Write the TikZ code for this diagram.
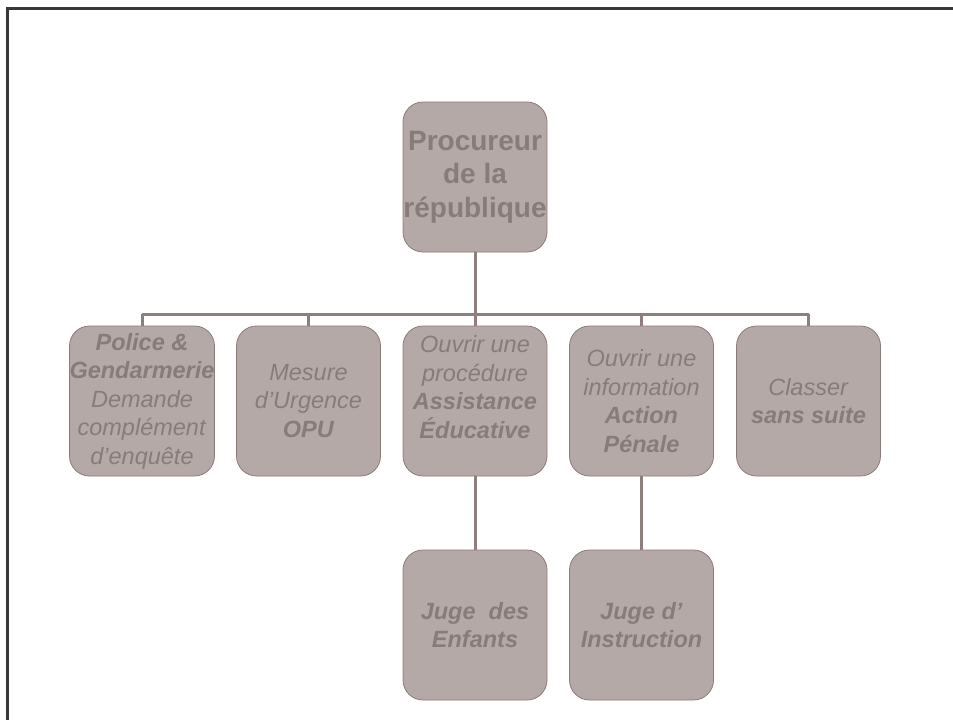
\documentclass[tikz,border=0pt]{standalone}
\usepackage{fontspec}
\setmainfont{Liberation Sans}
\definecolor{boxfill}{HTML}{B4A9A6}
\definecolor{boxline}{HTML}{8A7B78}
\definecolor{boxtext}{HTML}{877C7A}
\definecolor{conn}{HTML}{8E7F7C}
\definecolor{frame}{HTML}{383838}
\tikzset{
  orgbox/.style={draw=boxline, line width=0.8pt, fill=boxfill, rounded corners=20pt,
    minimum width=144pt, minimum height=150pt, inner sep=0pt, align=center,
    text=boxtext, font=\fontsize{23.5}{28.5}\selectfont},
  topbox/.style={orgbox, font=\fontsize{28}{33.5}\selectfont\bfseries},
  link/.style={draw=conn, line width=3pt}
}
\begin{document}
\begin{tikzpicture}[x=1pt,y=-1pt]
\useasboundingbox (0,0) rectangle (953,720);
\draw[frame, line width=3pt] (7,722) -- (7,8) -- (955,8);

\node[topbox] (top) at (475,177) {Procureur\\de la\\république};

\node[orgbox] (b1) at (142,401) {\textbf{\textit{Police \&}}\\\textbf{\textit{Gendarmerie}}\\\textit{Demande}\\\textit{complément}\\\textit{d’enquête}};
\node[orgbox] (b2) at (308.5,401) {\textit{Mesure}\\\textit{d’Urgence}\\\textbf{\textit{OPU}}};
\node[orgbox] (b3) at (475,401) {\textit{Ouvrir une}\\\textit{procédure}\\\textbf{\textit{Assistance}}\\\textbf{\textit{Éducative}}\\\mbox{}};
\node[orgbox] (b4) at (641.5,401) {\textit{Ouvrir une}\\\textit{information}\\\textbf{\textit{Action}}\\\textbf{\textit{Pénale}}};
\node[orgbox] (b5) at (808.5,401) {\textit{Classer}\\\textbf{\textit{sans suite}}};

\node[orgbox] (c3) at (475,625) {\textbf{\textit{Juge\ \ des}}\\\textbf{\textit{Enfants}}};
\node[orgbox] (c4) at (641.5,625) {\textbf{\textit{Juge d’}}\\\textbf{\textit{Instruction}}};

\coordinate (bus) at (475,314);
\coordinate (busl) at (142,314);
\coordinate (busr) at (808.5,314);

\draw[link] (top.south) -- (bus);
\draw[link] (busl) -- (busr);
\draw[link] (b1.north) -- (b1.north |- bus);
\draw[link] (b2.north) -- (b2.north |- bus);
\draw[link] (b3.north) -- (bus);
\draw[link] (b4.north) -- (b4.north |- bus);
\draw[link] (b5.north) -- (b5.north |- bus);
\draw[link] (b3.south) -- (c3.north);
\draw[link] (b4.south) -- (c4.north);
\end{tikzpicture}
\end{document}
